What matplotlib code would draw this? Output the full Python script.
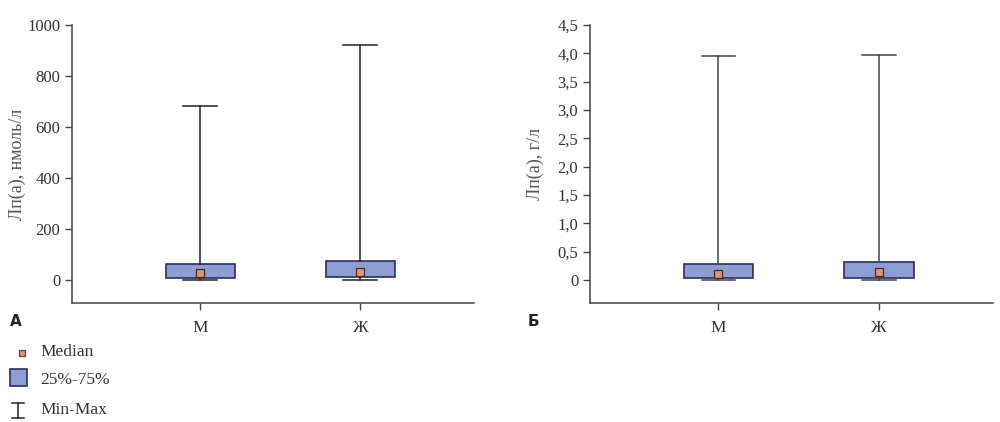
import matplotlib.pyplot as plt
from matplotlib.lines import Line2D

# categories
groups = ["М", "Ж"]

# panel A: Lp(a), nmol/l
a_min = [2, 2]
a_q1 = [8, 12]
a_med = [27, 31]
a_q3 = [63, 75]
a_max = [682, 921]

# panel B: Lp(a), g/l
b_min = [0.0, 0.0]
b_q1 = [0.03, 0.04]
b_med = [0.11, 0.14]
b_q3 = [0.28, 0.32]
b_max = [3.95, 3.97]

BOX_FACE = "#8e9dd3"
BOX_EDGE = "#2b2f5c"
MED_FACE = "#e0957a"
MED_EDGE = "#4a2a20"
SPINE = "#444444"
TXT = "#333333"

plt.rcParams['font.family'] = ['Liberation Serif', 'DejaVu Serif']
plt.rcParams['font.size'] = 12.5


def draw_panel(ax, mins, q1s, meds, q3s, maxs, ylim, yticks, yticklabels, ylabel, wcol):
    stats = []
    for i in range(len(groups)):
        stats.append(dict(label=groups[i], whislo=mins[i], q1=q1s[i], med=meds[i],
                          q3=q3s[i], whishi=maxs[i]))
    pos = list(range(len(groups)))
    ax.bxp(stats, positions=pos, widths=0.43, capwidths=0.21, showfliers=False,
           patch_artist=True,
           boxprops=dict(facecolor=BOX_FACE, edgecolor=BOX_EDGE, linewidth=1.2),
           whiskerprops=dict(color=wcol, linewidth=1.1),
           capprops=dict(color=wcol, linewidth=1.1),
           medianprops=dict(linewidth=0))
    ax.scatter(pos, meds, marker="s", s=30, facecolor=MED_FACE, edgecolor=MED_EDGE,
               linewidth=0.9, zorder=5)
    ax.set_xlim(-0.8, 1.71)
    ax.set_ylim(*ylim)
    ax.set_yticks(yticks)
    ax.set_yticklabels(yticklabels)
    ax.set_xticks(pos)
    ax.set_xticklabels(groups)
    ax.set_ylabel(ylabel, color="#555555", fontsize=13)
    ax.yaxis.set_label_coords(-0.115, 0.5)
    for s in ["top", "right"]:
        ax.spines[s].set_visible(False)
    for s in ["left", "bottom"]:
        ax.spines[s].set_color(SPINE)
        ax.spines[s].set_linewidth(1.1)
    ax.spines["left"].set_bounds(ylim[0], yticks[-1])
    ax.tick_params(direction="out", length=5, width=1, color=SPINE, labelcolor=TXT,
                   labelsize=12)
    ax.tick_params(axis="x", pad=7, labelsize=12.5)


fig = plt.figure(figsize=(10, 4.22), dpi=100)
ax1 = fig.add_axes([0.072, 0.282, 0.402, 0.6588])
ax2 = fig.add_axes([0.590, 0.282, 0.403, 0.6588])

a_ticks = [0, 200, 400, 600, 800, 1000]
draw_panel(ax1, a_min, a_q1, a_med, a_q3, a_max, (-90, 1000), a_ticks,
           [str(t) for t in a_ticks], "Лп(а), нмоль/л", "#222222")

b_ticks = [0, 0.5, 1.0, 1.5, 2.0, 2.5, 3.0, 3.5, 4.0, 4.5]
b_labels = ["0"] + [f"{t:.1f}".replace(".", ",") for t in b_ticks[1:]]
draw_panel(ax2, b_min, b_q1, b_med, b_q3, b_max, (-0.405, 4.5), b_ticks,
           b_labels, "Лп(а), г/л", "#444444")

# panel letters
fig.text(0.010, 1 - 322 / 422, "А", family="DejaVu Sans", fontweight="bold",
         fontsize=11, va="center", ha="left", color="#222222")
fig.text(0.528, 1 - 322 / 422, "Б", family="DejaVu Sans", fontweight="bold",
         fontsize=11, va="center", ha="left", color="#222222")

# legend, drawn in an overlay axes using pixel coordinates
lg = fig.add_axes([0, 0, 1, 1])
lg.set_xlim(0, 1000)
lg.set_ylim(422, 0)
lg.axis("off")
lg.scatter([22], [353], marker="s", s=22, facecolor="#d99a85", edgecolor="#6a4438",
           linewidth=0.9)
lg.text(40, 352, "Median", va="center", fontsize=12.5, color=TXT)
lg.add_patch(plt.Rectangle((10, 369), 17, 17, facecolor=BOX_FACE, edgecolor=BOX_EDGE,
                           linewidth=1.2))
lg.text(40, 380, "25%-75%", va="center", fontsize=12.5, color=TXT)
lg.add_line(Line2D([12, 24], [403, 403], color="#222222", lw=1.1))
lg.add_line(Line2D([12, 24], [418, 418], color="#222222", lw=1.1))
lg.add_line(Line2D([18, 18], [403, 418], color="#222222", lw=1.1))
lg.text(40, 410, "Min-Max", va="center", fontsize=12.5, color=TXT)

fig.savefig("out.png", dpi=100)
